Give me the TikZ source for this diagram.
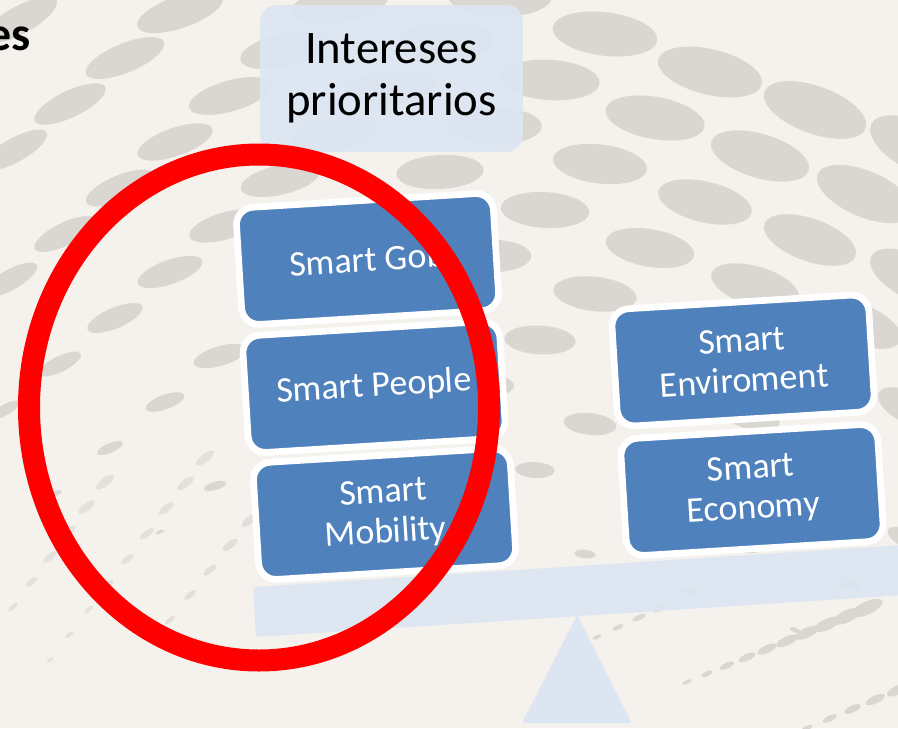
\documentclass[tikz,border=0pt]{standalone}
\usepackage{fontspec}
\setmainfont{Carlito}
\usepackage{tikz}
\usetikzlibrary{positioning}

\definecolor{paper}{RGB}{245,242,238}
\definecolor{dotgray}{RGB}{218,214,209}
\definecolor{smartblue}{RGB}{79,129,189}
\definecolor{paleblue}{RGB}{220,230,242}
\definecolor{ringred}{RGB}{255,0,0}

\begin{document}
\begin{tikzpicture}[x=0.75pt,y=-0.75pt]
\tikzstyle{smartbox}=[draw=white, line width=5pt, fill=smartblue, rounded corners=13pt,
  minimum width=193pt, minimum height=88pt, inner sep=0pt, text=white, align=center,
  font=\fontsize{27}{30}\selectfont, rotate=3.5]
\tikzstyle{titlebox}=[fill=paleblue, fill opacity=0.92, text opacity=1, rounded corners=12pt,
  minimum width=197pt, minimum height=110pt, inner sep=0pt, align=center,
  font=\fontsize{35}{39}\selectfont]
\useasboundingbox (0,0) rectangle (898,728);
\fill[paper] (0,0) rectangle (898,728);
% fondo de puntos
\begin{scope}
\clip (0,0) rectangle (898,728);
\foreach \i in {-3,...,14}
\foreach \j in {-3,...,17} {
  \pgfmathsetmacro\px{20+105*\i-55*\j}
  \pgfmathsetmacro\py{20+38*\i+46*\j}
  \pgfmathsetmacro\rx{42+0.02*\px-0.0412*\py-0.08*max(0,\py-300)}
  \pgfmathsetmacro\ry{\rx*(0.33+0.000134*\px)}
  \pgfmathsetmacro\ang{30-0.0612*\px}
  \ifdim\rx pt>4pt
    \fill[dotgray, rotate around={\ang:(\px,\py)}] (\px,\py) ellipse [x radius=\rx, y radius=\ry];
  \fi
}
% hileras de puntos abajo
\foreach \sx/\sy/\ex/\ey/\n/\ra/\rb/\ang/\op in {13/607/105/482/5/6/11/38/0.6,
    50/660/205/458/8/4/11/38/0.6, 170/620/250/520/4/6/10/38/0.7,
    597/637/660/608/3/5/8/25/0.9, 687/682/867/608/9/5/17/25/1,
    807/728/898/690/4/6/12/25/1} {
  \foreach \k in {0,...,\n} {
    \pgfmathsetmacro\px{\sx+(\ex-\sx)*\k/\n}
    \pgfmathsetmacro\py{\sy+(\ey-\sy)*\k/\n}
    \pgfmathsetmacro\rx{\ra+(\rb-\ra)*\k/\n}
    \fill[dotgray, opacity=\op, rotate around={\ang:(\px,\py)}] (\px,\py) ellipse [x radius=\rx, y radius=0.38*\rx];
  }
}
\end{scope}
% balanza
\fill[paleblue, rounded corners=2pt] (577,615) -- (522,723) -- (632,723) -- cycle;
\fill[paleblue, opacity=0.9, rounded corners=2pt] (253,587) -- (256,637) -- (905,595) -- (902,545) -- cycle;
% titulo
\node[font=\fontsize{36}{40}\selectfont\bfseries, anchor=base east, inner sep=0pt] (tituloes) at (31,50) {es};
\node[titlebox] (intereses) at (391.5,78.5) {Intereses\\prioritarios};
% lado izquierdo
\node[smartbox] (gob) at (367.5,259) {Smart Gob};
\node[smartbox] (people) at (374,387) {Smart People};
\node[smartbox] (mobility) at (384.5,514) {Smart\\Mobility};
% lado derecho
\node[smartbox] (enviroment) at (743,360.5) {Smart\\Enviroment};
\node[smartbox] (economy) at (752,490) {Smart\\Economy};
% circulo rojo
\draw[ringred, line width=16.5pt] (259,407.5) ellipse [x radius=230, y radius=253];
\end{tikzpicture}
\end{document}
